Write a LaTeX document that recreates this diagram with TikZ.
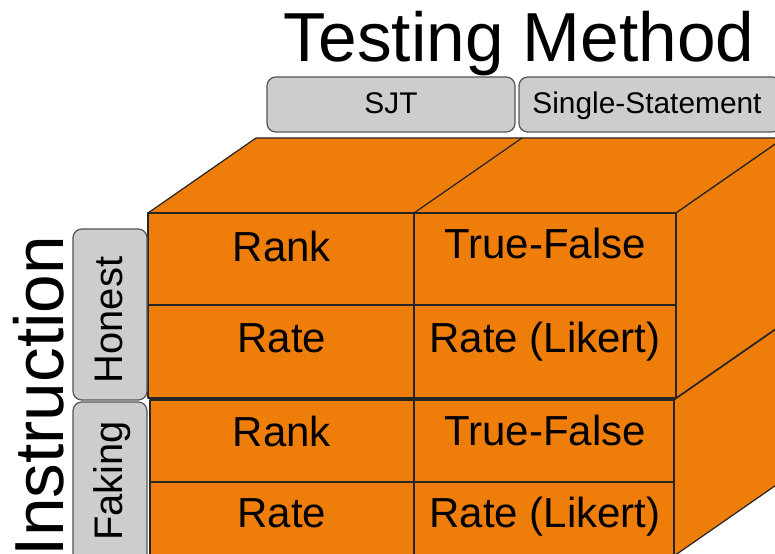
\documentclass[tikz,border=0pt]{standalone}
\usepackage{fontspec}
\setmainfont{Liberation Sans}
\usetikzlibrary{positioning}
\usetikzlibrary{calc}

\definecolor{cubeorange}{RGB}{238,125,10}
\definecolor{tabgray}{RGB}{205,205,205}
\definecolor{tabedge}{RGB}{85,85,85}

\tikzset{
	face/.style={fill=cubeorange,draw=black!85,line width=0.7pt,line join=round},
	tab/.style={fill=tabgray,draw=tabedge,line width=0.7pt,rounded corners=5pt},
	celltext/.style={anchor=base,font=\fontsize{23.9}{28}\selectfont},
	tabtext/.style={anchor=base,font=\fontsize{17}{20}\selectfont},
	sidetext/.style={anchor=base,rotate=90,font=\fontsize{22.7}{26}\selectfont},
	bigtext/.style={anchor=base,font=\fontsize{39.5}{44}\selectfont}
}

\begin{document}
\begin{tikzpicture}[x=0.02cm,y=-0.02cm]
		\useasboundingbox (0,0) rectangle (775,554);
		\clip (0,0) rectangle (775,554);

		\coordinate(D) at (108,-75);
		% upper block (honest)
		\coordinate(A) at (148,213);
		\coordinate(B) at (676,213);
		\coordinate(C) at (676,398);
		\coordinate(M) at (414,213);
		% lower block (faking)
		\coordinate(LA) at (150,400);
		\coordinate(LB) at (674,400);
		\coordinate(LC) at (674,556);
		\coordinate(LM) at (414,400);

		% lower block first, the upper one sits on it
		\draw[face] (LB) -- ($(LB)+(D)$) -- ($(LC)+(D)$) -- (LC) -- cycle;
		\draw[face] (LA) rectangle (LC);
		\draw[face] (LM) -- (LM|-LC);
		\draw[face] (LA|-0,482) -- (LB|-0,482);

		\draw[face] (A) -- ($(A)+(D)$) -- ($(B)+(D)$) -- (B) -- cycle;
		\draw[face] (B) -- ($(B)+(D)$) -- ($(C)+(D)$) -- (C) -- cycle;
		\draw[face] (A) rectangle (C);
		\draw[face] (M) -- ($(M)+(D)$);
		\draw[face] (M) -- (M|-C);
		\draw[face] (A|-0,305) -- (B|-0,305);

		\node[celltext] (rankH) at (282,261) {Rank};
		\node[celltext] (tfH) at (545,258) {True-False};
		\node[celltext] (rateH) at (282,352) {Rate};
		\node[celltext] (likertH) at (545,352) {Rate (Likert)};
		\node[celltext] (rankF) at (282,446) {Rank};
		\node[celltext] (tfF) at (545,445) {True-False};
		\node[celltext] (rateF) at (282,527) {Rate};
		\node[celltext] (likertF) at (545,527) {Rate (Likert)};

		% column tabs
		\draw[tab] (267,77) rectangle (515,132);
		\draw[tab] (519,77) rectangle (781,132);
		\node[tabtext] (sjt) at (391,114) {SJT};
		\node[tabtext] (single) at (647,114) {Single-Statement};

		% row tabs
		\draw[tab] (73,229) rectangle (147,400);
		\draw[tab] (73,402) rectangle (147,562);
		\node[sidetext] (honest) at (122,320) {Honest};
		\node[sidetext] (faking) at (122,481) {Faking};

		\node[bigtext] (method) at (519,62) {Testing Method};
		\node[bigtext,rotate=90] (instr) at (63,396) {Instruction};
	\end{tikzpicture}
\end{document}
